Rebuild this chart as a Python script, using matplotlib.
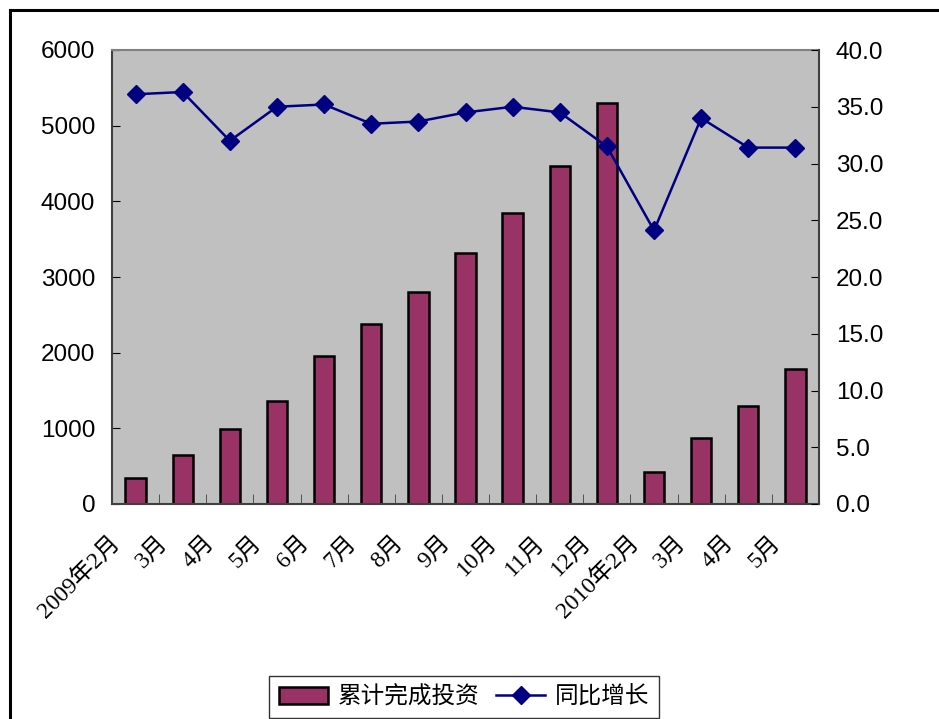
import numpy as np
import matplotlib
matplotlib.use("Agg")
import matplotlib.pyplot as plt
from matplotlib.lines import Line2D
from matplotlib.ticker import FormatStrFormatter, FixedLocator
from matplotlib.transforms import ScaledTranslation

# ------------------------- data ---------------------------------------------------

months = ["2009年2月", "3月", "4月", "5月", "6月", "7月", "8月", "9月", "10月",
          "11月", "12月", "2010年2月", "3月", "4月", "5月"]
investment = [345, 643, 990, 1360, 1955, 2380, 2798, 3322, 3844,
              4465, 5302, 423, 868, 1290, 1783]
growth = [36.1, 36.3, 32.0, 35.0, 35.2, 33.5, 33.7, 34.5, 35.0,
          34.5, 31.5, 24.1, 34.0, 31.4, 31.4]

bar_name = "累计完成投资"
line_name = "同比增长"

# ------------------------- figure ---------------------------------------------------

plt.rcParams['font.family'] = ['Liberation Sans', 'Noto Sans CJK SC', 'DejaVu Sans']

fig = plt.figure(figsize=(9.39, 7.19), dpi=100)
ax = fig.add_axes([112/939, (719-504)/719, 707/939, 454/719])
ax.set_facecolor("#c0c0c0")

x = np.arange(len(months))
bars = ax.bar(x, investment, width=0.43, color="#993366", edgecolor="black",
              linewidth=1.8, label=bar_name, zorder=2)
ax.set_xlim(-0.5, len(months) - 0.5)
ax.set_ylim(0, 6000)
ax.set_yticks(range(0, 6001, 1000))
ax.tick_params(axis='y', direction='in', length=6, pad=12, labelsize=17.5, colors='black')

# x axis: tick marks between categories, labels at centres
ax.set_xticks(x)
ax.set_xticklabels(months, rotation=45, ha='right', rotation_mode='anchor',
                   family=['Liberation Serif', 'Noto Sans CJK SC'], fontsize=17)
ax.tick_params(axis='x', which='major', length=0, pad=16)
shift = ScaledTranslation(-26/100, -6/100, fig.dpi_scale_trans)
for lab in ax.get_xticklabels():
    lab.set_transform(lab.get_transform() + shift)
ax.xaxis.set_minor_locator(FixedLocator(np.arange(0.5, len(months) - 0.5, 1)))
ax.tick_params(axis='x', which='minor', direction='in', length=7, color='#404040')

for s in ['left', 'bottom']:
    ax.spines[s].set_color('#404040')
    ax.spines[s].set_linewidth(1.5)
ax.spines['top'].set_color('#808080')
ax.spines['top'].set_linewidth(1.5)
ax.spines['right'].set_visible(False)

ax2 = ax.twinx()
line, = ax2.plot(x, growth, color="#000080", marker='D', markersize=9,
                 linewidth=1.8, label=line_name, zorder=3)
ax2.set_ylim(0, 40)
ax2.set_yticks(np.arange(0, 40.1, 5))
ax2.yaxis.set_major_formatter(FormatStrFormatter('%.1f'))
ax2.tick_params(axis='y', direction='in', length=6, pad=12, labelsize=17.5, colors='black')
ax2.spines['right'].set_color('#404040')
ax2.spines['right'].set_linewidth(1.5)
for s in ['left', 'top', 'bottom']:
    ax2.spines[s].set_visible(False)

# ------------------------- legend ---------------------------------------------------

leg = fig.legend([bars, line], [bar_name, line_name], loc='center', ncol=2,
                 bbox_to_anchor=(464/939, (719-697)/719),
                 frameon=True, fancybox=False, edgecolor='black',
                 handlelength=2.1, columnspacing=0.7, handletextpad=0.4,
                 borderpad=0.4, prop={'family': ['Noto Sans CJK SC'], 'size': 17})
leg.get_frame().set_linewidth(1.0)

# outer frame of the chart area
fig.add_artist(Line2D([10/939, 10/939], [0, 709/719], color='black', linewidth=2.2,
                      transform=fig.transFigure))
fig.add_artist(Line2D([10/939, 1], [709/719, 709/719], color='black', linewidth=2.2,
                      transform=fig.transFigure))

fig.savefig("out.png", dpi=100)
